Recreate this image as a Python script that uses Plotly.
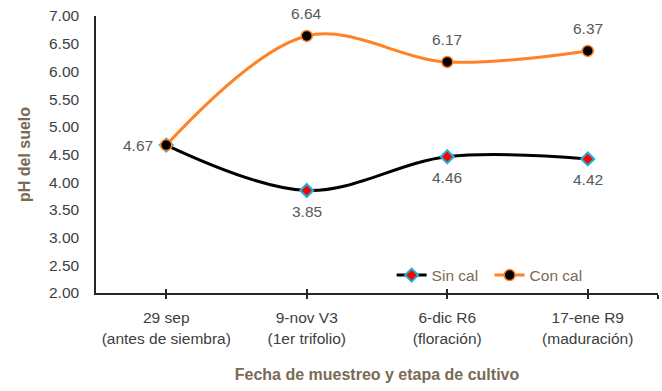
import plotly.graph_objects as go

categorias = ["29 sep<br>(antes de siembra)", "9-nov V3<br>(1er trifolio)",
              "6-dic R6<br>(floración)", "17-ene R9<br>(maduración)"]
sin_cal = [4.67, 3.85, 4.46, 4.42]
con_cal = [4.67, 6.64, 6.17, 6.37]
y_ticks = [2.0, 2.5, 3.0, 3.5, 4.0, 4.5, 5.0, 5.5, 6.0, 6.5, 7.0]

FONT = "Liberation Sans, Arial, sans-serif"
BROWN = "#7a6a55"
ORANGE = "#FF8226"
LABEL = "#595959"
FS = 15.5
x = list(range(len(categorias)))

fig = go.Figure()
fig.add_trace(go.Scatter(
    x=x, y=sin_cal, name="Sin cal", mode="lines+markers",
    line=dict(color="black", width=3, shape="spline", smoothing=1),
    marker=dict(symbol="diamond", size=10, color="#FF0000",
                line=dict(color="#1CB3D9", width=2)),
    cliponaxis=False,
))
fig.add_trace(go.Scatter(
    x=x, y=con_cal, name="Con cal", mode="lines+markers",
    line=dict(color=ORANGE, width=3, shape="spline", smoothing=1),
    marker=dict(symbol="circle", size=11, color="black",
                line=dict(color=ORANGE, width=1.5)),
    cliponaxis=False,
))

# data labels
for i, v in enumerate(con_cal):
    if i == 0:
        fig.add_annotation(x=x[i], y=v, text=f"{v:.2f}", showarrow=False,
                           xanchor="right", xshift=-11,
                           font=dict(family=FONT, size=FS, color=LABEL))
    else:
        fig.add_annotation(x=x[i], y=v, text=f"{v:.2f}", showarrow=False,
                           yshift=22, font=dict(family=FONT, size=FS, color=LABEL))
for i, v in enumerate(sin_cal):
    if i == 0:
        continue
    fig.add_annotation(x=x[i], y=v, text=f"{v:.2f}", showarrow=False,
                       yshift=-21, font=dict(family=FONT, size=FS, color=LABEL))

tickvals = x + [len(categorias) - 0.5]
ticktext = categorias + [""]

fig.update_layout(
    width=662, height=391,
    margin=dict(l=96, r=4, t=16, b=98, autoexpand=False),
    paper_bgcolor="white", plot_bgcolor="white",
    font=dict(family=FONT, size=FS, color="#404040"),
    showlegend=True,
    legend=dict(orientation="h", x=0.526, y=0.063, xanchor="left", yanchor="middle",
                font=dict(family=FONT, size=FS, color=BROWN),
                bgcolor="rgba(0,0,0,0)", itemwidth=30, tracegroupgap=0,
                entrywidth=53, entrywidthmode="pixels"),
    xaxis=dict(range=[-0.5, 3.5], tickmode="array", tickvals=tickvals, ticktext=ticktext,
               showline=True, linecolor="#262626", linewidth=1.5,
               ticks="outside", ticklen=4, tickcolor="#262626", tickwidth=1.5,
               showgrid=False, zeroline=False, automargin=False,
               ticklabelstandoff=6,
               tickfont=dict(family=FONT, size=FS, color="#404040"),
               title=dict(text="<b>Fecha de muestreo y etapa de cultivo</b>",
                          font=dict(family=FONT, size=16, color=BROWN), standoff=23)),
    xaxis2=dict(range=[-0.5, 3.5], overlaying="x", anchor="y", side="bottom",
                tickmode="array", tickvals=tickvals, showticklabels=False,
                ticks="inside", ticklen=4, tickcolor="#262626", tickwidth=1.5,
                showline=False, showgrid=False, zeroline=False, automargin=False),
    yaxis=dict(range=[2, 7], tickmode="array", tickvals=y_ticks,
               ticktext=[f"{v:.2f}" for v in y_ticks],
               showline=True, linecolor="#262626", linewidth=1.5,
               ticks="", showgrid=False, zeroline=False, automargin=False,
               ticklabelstandoff=12, ticklabeloverflow="allow",
               tickfont=dict(family=FONT, size=FS, color="#404040"),
               title=dict(text="<b>pH del suelo</b>",
                          font=dict(family=FONT, size=16, color=BROWN), standoff=14)),
)
fig.add_trace(go.Scatter(x=[None], y=[None], xaxis="x2", showlegend=False, hoverinfo="skip"))

fig.write_html("out.html", config={"displayModeBar": False},
               post_script="document.body.style.margin='0';document.body.style.overflow='hidden';")
